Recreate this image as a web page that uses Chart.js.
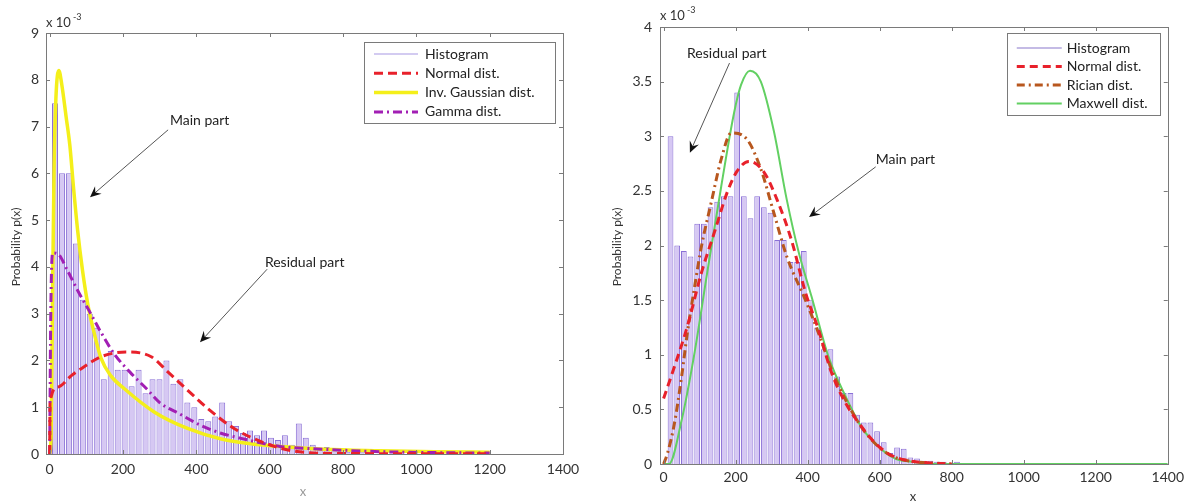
<!DOCTYPE html>
<html>
<head>
<meta charset="utf-8">
<title>Amplitude distribution fits</title>
<script src="https://cdn.jsdelivr.net/npm/chart.js@4.4.1/dist/chart.umd.min.js"></script>
<style>
  html, body { margin: 0; padding: 0; background: #fff; }
  #wrap { position: relative; width: 1189px; height: 504px; overflow: hidden; }
  canvas { position: absolute; top: 0; }
  #leftChart { left: 0; }
  #rightChart { left: 590px; }
</style>
</head>
<body>
<div id="wrap">
  <canvas id="leftChart" width="590" height="504"></canvas>
  <canvas id="rightChart" width="599" height="504"></canvas>
</div>
<script>
// ---- axis ticks ----
const xTicks = [0, 200, 400, 600, 800, 1000, 1200, 1400];
const leftYTicks = [0, 1, 2, 3, 4, 5, 6, 7, 8, 9];
const rightYTicks = [0, 0.5, 1, 1.5, 2, 2.5, 3, 3.5, 4];

// ---- left panel: histogram (p(x) in units of 1e-3), bins 19 wide from x = 5 ----
const leftBinStart = 5;
const leftBinWidth = 19;
const leftHist = [7.5, 6.0, 6.0, 4.5, 3.3, 3.0, 2.7, 1.6, 2.2, 1.8,
                  1.8, 1.45, 1.8, 1.3, 1.6, 1.6, 2.0, 1.5, 1.6, 1.1,
                  1.0, 0.75, 0.7, 0.8, 1.1, 0.7, 0.6, 0.45, 0.5, 0.4,
                  0.5, 0.35, 0.3, 0.4, 0.2, 0.65, 0.35, 0.2, 0.12, 0.15,
                  0.1, 0.08, 0.05, 0.06, 0.04];

// fitted densities, [x, p] pairs
const leftNormal = [[0, 0], [1, 1.1], [22, 1.43], [60, 1.68], [93, 1.86], [140, 2.08],
                    [208, 2.18], [277, 2.08], [323, 1.75], [378, 1.35], [433, 0.96],
                    [504, 0.54], [578, 0.26], [660, 0.07], [800, 0.01], [1200, 0.005]];
const leftInvGauss = [[0, 0], [4, 0.4], [8, 3.5], [12, 6.1], [17, 7.6], [25, 8.2], [33, 7.9],
                      [45, 7.2], [55, 6.6], [65, 5.7], [76, 4.8], [90, 3.9], [104, 3.2],
                      [121, 2.6], [140, 2.05], [167, 1.67], [203, 1.4], [285, 0.9],
                      [378, 0.54], [468, 0.32], [559, 0.21], [652, 0.15], [750, 0.1],
                      [900, 0.07], [1050, 0.05], [1200, 0.04]];
const leftGamma = [[0, 0], [3, 3.0], [8, 4.3], [22, 4.28], [50, 3.9], [76, 3.5], [112, 3.0],
                   [140, 2.6], [176, 2.14], [219, 1.75], [265, 1.39], [300, 1.1], [356, 0.85],
                   [410, 0.62], [465, 0.45], [519, 0.34], [628, 0.16], [700, 0.12],
                   [800, 0.08], [900, 0.05], [1050, 0.03], [1200, 0.02]];

// ---- right panel: histogram, bins 18.5 wide from x = 10 ----
const rightBinStart = 10;
const rightBinWidth = 18.5;
const rightHist = [3.0, 2.0, 1.95, 1.9, 2.2, 2.2, 2.35, 2.4, 2.45, 2.45,
                   3.4, 2.45, 2.25, 2.45, 2.35, 2.3, 2.05, 2.05, 1.85, 1.85,
                   1.95, 1.5, 1.25, 1.05, 1.05, 0.8, 0.65, 0.65, 0.45, 0.38,
                   0.38, 0.3, 0.2, 0.1, 0.15, 0.14, 0.06, 0.05, 0.03, 0.03,
                   0.02, 0.02, 0.01, 0.02];

const rightNormal = [[0, 0.6], [30, 0.89], [66, 1.26], [105, 1.75], [141, 2.12], [177, 2.49],
                     [204, 2.68], [237, 2.77], [279, 2.67], [315, 2.42], [355, 2.05],
                     [394, 1.57], [430, 1.23], [467, 0.83], [505, 0.56], [541, 0.38],
                     [588, 0.19], [632, 0.08], [680, 0.03], [740, 0.01], [800, 0]];
const rightRician = [[0, 0], [11, 0.1], [30, 0.37], [50, 0.8], [66, 1.2], [86, 1.62],
                     [105, 1.99], [132, 2.39], [160, 2.79], [188, 3.03], [232, 2.97],
                     [270, 2.7], [306, 2.3], [342, 1.9], [394, 1.5], [430, 1.2],
                     [467, 0.86], [505, 0.59], [549, 0.34], [596, 0.16], [643, 0.06],
                     [700, 0.02], [800, 0]];
const rightMaxwell = [[0, 0], [15, 0], [50, 0.4], [86, 1.02], [121, 1.75], [160, 2.54],
                      [196, 3.22], [215, 3.47], [240, 3.6], [270, 3.5], [306, 3.05],
                      [342, 2.42], [375, 1.94], [411, 1.53], [458, 0.98], [505, 0.62],
                      [549, 0.34], [596, 0.16], [643, 0.05], [690, 0.02], [750, 0], [1400, 0]];

const FONT = 'Lato, "Open Sans", sans-serif';
const HIST_FILL = '#d6c8f3';
const HIST_EDGE = '#8a70d6';

function histDataset(counts, start, width) {
  return {
    type: 'bar',
    label: 'Histogram',
    data: counts.map((v, i) => ({ x: start + width * (i + 0.5), y: v })),
    backgroundColor: HIST_FILL,
    borderColor: HIST_EDGE,
    borderWidth: 1,
    barPercentage: 0.86,
    categoryPercentage: 1,
    order: 10
  };
}

function curveDataset(label, pts, color, width, dash, order) {
  return {
    type: 'line',
    label: label,
    data: pts.map(([x, y]) => ({ x, y })),
    borderColor: color,
    borderWidth: width,
    borderDash: dash,
    pointRadius: 0,
    fill: false,
    cubicInterpolationMode: 'monotone',
    order: order
  };
}

// box, inward ticks, legend, exponent, axis titles and arrows
const panelDecor = {
  id: 'panelDecor',
  afterDatasetsDraw(chart, args, o) {
    const { ctx, chartArea: a, scales: { x, y } } = chart;
    ctx.save();

    ctx.strokeStyle = '#7a7a7a';
    ctx.lineWidth = 1;
    ctx.setLineDash([]);
    ctx.strokeRect(Math.round(a.left) + 0.5, Math.round(a.top) + 0.5,
                   Math.round(a.right - a.left), Math.round(a.bottom - a.top));
    ctx.beginPath();
    x.ticks.forEach(t => {
      const px = Math.round(x.getPixelForValue(t.value)) + 0.5;
      ctx.moveTo(px, a.bottom); ctx.lineTo(px, a.bottom - 4);
      ctx.moveTo(px, a.top); ctx.lineTo(px, a.top + 4);
    });
    y.ticks.forEach(t => {
      const py = Math.round(y.getPixelForValue(t.value)) + 0.5;
      ctx.moveTo(a.left, py); ctx.lineTo(a.left + 4, py);
      ctx.moveTo(a.right, py); ctx.lineTo(a.right - 4, py);
    });
    ctx.stroke();

    // x 10^-3 multiplier
    ctx.fillStyle = '#333';
    ctx.textBaseline = 'middle';
    ctx.textAlign = 'left';
    ctx.font = '13px ' + FONT;
    const ey = a.top - o.expLift;
    ctx.fillText('x 10', a.left, ey);
    const w = ctx.measureText('x 10').width;
    ctx.font = '9px ' + FONT;
    ctx.fillText('-3', a.left + w + 2, ey - 6);

    // axis titles
    ctx.font = '12px ' + FONT;
    ctx.textAlign = 'center';
    ctx.save();
    ctx.translate(o.yTitle[0], o.yTitle[1]);
    ctx.rotate(-Math.PI / 2);
    ctx.fillText('Probability p(x)', 0, 0);
    ctx.restore();
    ctx.font = '13px ' + FONT;
    ctx.fillStyle = o.xTitleColor;
    ctx.fillText('x', o.xTitle[0], o.xTitle[1]);

    // annotations
    ctx.fillStyle = '#222';
    ctx.textAlign = 'left';
    o.notes.forEach(n => {
      ctx.font = '14px ' + FONT;
      ctx.fillText(n.text, x.getPixelForValue(n.at[0]), y.getPixelForValue(n.at[1]));
      const x0 = x.getPixelForValue(n.from[0]), y0 = y.getPixelForValue(n.from[1]);
      const x1 = x.getPixelForValue(n.to[0]), y1 = y.getPixelForValue(n.to[1]);
      const ang = Math.atan2(y1 - y0, x1 - x0);
      ctx.strokeStyle = '#555';
      ctx.lineWidth = 1;
      ctx.beginPath();
      ctx.moveTo(x0, y0);
      ctx.lineTo(x1 - 6 * Math.cos(ang), y1 - 6 * Math.sin(ang));
      ctx.stroke();
      ctx.save();
      ctx.translate(x1, y1);
      ctx.rotate(ang);
      ctx.fillStyle = '#111';
      ctx.beginPath();
      ctx.moveTo(0, 0);
      ctx.lineTo(-11, -5);
      ctx.lineTo(-7, 0);
      ctx.lineTo(-11, 5);
      ctx.closePath();
      ctx.fill();
      ctx.restore();
    });

    // legend
    const L = o.legend;
    const bx = a.right - L.inset - L.width, by = a.top + L.top;
    ctx.fillStyle = '#fff';
    ctx.fillRect(bx, by, L.width, L.height);
    ctx.strokeStyle = '#7a7a7a';
    ctx.strokeRect(Math.round(bx) + 0.5, Math.round(by) + 0.5, L.width, L.height);
    const items = chart.data.datasets.slice().sort((p, q) => p.legendRank - q.legendRank);
    items.forEach((d, i) => {
      const ry = by + L.first + i * L.gap;
      ctx.save();
      ctx.strokeStyle = d.type === 'bar' ? L.histLine : d.borderColor;
      ctx.lineWidth = d.type === 'bar' ? 1.2 : d.borderWidth;
      ctx.setLineDash(d.borderDash || []);
      ctx.beginPath();
      ctx.moveTo(bx + L.line0, ry);
      ctx.lineTo(bx + L.line1, ry);
      ctx.stroke();
      ctx.restore();
      ctx.fillStyle = '#222';
      ctx.font = L.font + 'px ' + FONT;
      ctx.fillText(d.label, bx + L.text, ry);
    });
    ctx.restore();
  }
};

function panelOptions(yMax, yTicks, axisW, axisH, pad, decor) {
  const tickFont = { family: FONT, size: 14 };
  return {
    responsive: false,
    animation: false,
    events: [],
    layout: { padding: pad },
    plugins: { legend: { display: false }, tooltip: { enabled: false }, panelDecor: decor },
    scales: {
      x: {
        type: 'linear', min: -10, max: 1400, offset: false,
        grid: { display: false, drawTicks: false, offset: false }, border: { display: false },
        ticks: { padding: decor.xPad, color: '#333', font: tickFont, autoSkip: false, maxRotation: 0,
                 callback: v => String(v) },
        afterBuildTicks: s => { s.ticks = xTicks.map(v => ({ value: v })); },
        afterFit: s => { s.height = axisH; }
      },
      y: {
        type: 'linear', min: 0, max: yMax,
        grid: { display: false, drawTicks: false }, border: { display: false },
        ticks: { padding: decor.yPad, color: '#333', font: tickFont, autoSkip: false,
                 callback: v => String(v) },
        afterBuildTicks: s => { s.ticks = yTicks.map(v => ({ value: v })); },
        afterFit: s => { s.width = axisW; }
      }
    }
  };
}

Chart.register(panelDecor);

// left: heavy-tailed amplitude, Normal / Inverse Gaussian / Gamma fits
const leftSets = [
  histDataset(leftHist, leftBinStart, leftBinWidth),
  curveDataset('Normal dist.', leftNormal, '#e8212b', 3, [9, 5], 1),
  curveDataset('Inv. Gaussian dist.', leftInvGauss, '#f4ef1a', 3.5, [], 3),
  curveDataset('Gamma dist.', leftGamma, '#a21fb4', 3, [9, 4, 2, 4], 2)
];
leftSets.forEach((d, i) => { d.legendRank = i; });

new Chart(document.getElementById('leftChart'), {
  type: 'line',
  data: { datasets: leftSets },
  options: panelOptions(9, leftYTicks, 46, 50, { left: 0, top: 33, right: 27, bottom: 0 }, {
    xPad: 7, yPad: 7, expLift: 10,
    yTitle: [16, 247], xTitle: [303, 492], xTitleColor: '#999',
    legend: { inset: 8, top: 9, width: 191, height: 81, first: 12, gap: 19.3,
              line0: 10, line1: 54, text: 61, font: 14, histLine: '#a797e3' },
    notes: [
      { text: 'Main part', at: [328, 7.12], from: [323, 6.93], to: [110, 5.49] },
      { text: 'Residual part', at: [587, 4.1], from: [593, 3.95], to: [410, 2.39] }
    ]
  })
});

// right: Normal / Rician / Maxwell fits
const rightSets = [
  histDataset(rightHist, rightBinStart, rightBinWidth),
  curveDataset('Normal dist.', rightNormal, '#e8212b', 3, [8, 5], 1),
  curveDataset('Rician dist.', rightRician, '#b8571e', 3, [8, 4, 2, 4], 2),
  curveDataset('Maxwell dist.', rightMaxwell, '#62d062', 2, [], 3)
];
rightSets.forEach((d, i) => { d.legendRank = i; });

new Chart(document.getElementById('rightChart'), {
  type: 'line',
  data: { datasets: rightSets },
  options: panelOptions(4, rightYTicks, 70, 40, { left: 0, top: 27, right: 18, bottom: 0 }, {
    xPad: 5, yPad: 8, expLift: 11,
    yTitle: [27, 247], xTitle: [323, 497], xTitleColor: '#333',
    legend: { inset: 8, top: 6, width: 153, height: 82, first: 15, gap: 18.5,
              line0: 10, line1: 55, text: 60, font: 14, histLine: '#8a78cc' },
    notes: [
      { text: 'Residual part', at: [65, 3.76], from: [183, 3.67], to: [73, 2.85] },
      { text: 'Main part', at: [589, 2.79], from: [589, 2.72], to: [404, 2.26] }
    ]
  })
});
</script>
</body>
</html>
